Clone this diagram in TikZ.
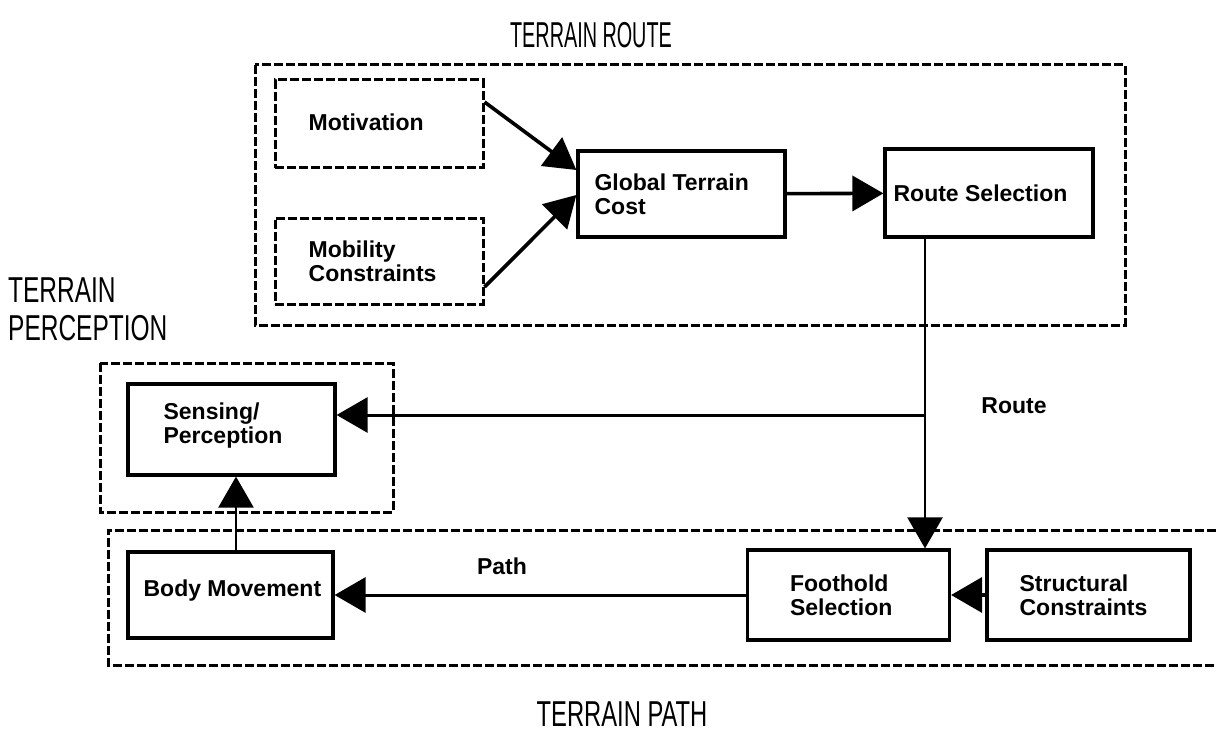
\documentclass[tikz,border=0pt]{standalone}
\usepackage{fontspec}
\setmainfont{Liberation Sans}
\newfontfamily\titlefont[FakeStretch=0.55]{Liberation Sans}
\newfontfamily\titlefontb[FakeStretch=0.66]{Liberation Sans}
\newfontfamily\titlefontc[FakeStretch=0.68]{Liberation Sans}
\usetikzlibrary{arrows.meta}
\begin{document}
\begin{tikzpicture}[x=1pt,y=-1pt,
  box/.style={draw, line width=3.2pt, minimum width=#1, minimum height=88pt, inner sep=0pt},
  dbox/.style={draw, line width=3pt, dash pattern=on 9pt off 3pt, minimum width=#1, minimum height=88pt, inner sep=0pt},
  frame/.style={line width=3pt, dash pattern=on 9pt off 3pt},
  lbl/.style={font=\bfseries\fontsize{23}{24}\selectfont, align=left, inner sep=0pt},
  title/.style={font=\titlefont\fontsize{36}{37}\selectfont, align=left, inner sep=0pt},
  arr/.style={-{Triangle[length=31pt,width=35pt]}, line width=3.6pt},
  thin/.style={line width=2pt}
]
\useasboundingbox (0,0) rectangle (1216,733);

% group frames
\draw[frame] (255,65) rectangle (1125,325);
\draw[frame] (100,363) rectangle (393,512);
\draw[frame] (1216,530) -- (108,530) -- (108,665) -- (1216,665);

% titles
\node[title] (t-route) at (591,35) {TERRAIN ROUTE};
\node[title, font=\titlefontc\fontsize{36}{37}\selectfont, anchor=north west] (t-perc) at (8,278) {TERRAIN\\[1pt]PERCEPTION};
\node[title, font=\titlefontb\fontsize{36}{37}\selectfont] (t-path) at (622,714) {TERRAIN PATH};

% boxes
\node[dbox=208pt] (mot) at (379,124) {};
\node[dbox=208pt, minimum height=86pt] (mob) at (379,261) {};
\node[box=207pt, minimum height=86pt] (gtc) at (681.5,194) {};
\node[box=208pt] (rs) at (989,193) {};
\node[box=207pt, minimum height=91pt] (sp) at (231.5,429.5) {};
\node[box=205pt, minimum height=86pt] (bm) at (230.5,595) {};
\node[box=202pt, minimum height=90pt] (fs) at (848.5,595) {};
\node[box=203pt, minimum height=90pt] (sc) at (1088.5,595) {};

% box texts
\node[lbl, anchor=west] (mot-t) at ([xshift=35pt,yshift=2pt]mot.west) {Motivation};
\node[lbl, anchor=west] (mob-t) at ([xshift=35pt]mob.west) {Mobility\\Constraints};
\node[lbl, anchor=west] (gtc-t) at ([xshift=18pt]gtc.west) {Global Terrain\\Cost};
\node[lbl, anchor=west] (rs-t) at ([xshift=10pt]rs.west) {Route Selection};
\node[lbl, anchor=west] (sp-t) at ([xshift=37pt,yshift=4pt]sp.west) {Sensing/\\Perception};
\node[lbl, anchor=west] (bm-t) at ([xshift=17pt,yshift=4pt]bm.west) {Body Movement};
\node[lbl, anchor=west] (fs-t) at ([xshift=44pt]fs.west) {Foothold\\Selection};
\node[lbl, anchor=west] (sc-t) at ([xshift=34pt]sc.west) {Structural\\Constraints};

% connector labels
\node[lbl] (route-l) at (1014,406) {Route};
\node[lbl] (path-l) at (502,566) {Path};

% connectors
\draw[arr] ([yshift=22pt]mot.east) -- ([yshift=24pt]gtc.west);
\draw[arr] ([yshift=-26pt]mob.east) -- ([yshift=-1pt]gtc.west);
\draw[arr] (gtc) -- (rs);
\coordinate (rj) at (925,415);
\draw[thin] (rs.south -| rj) -- (rj);
\draw[arr, line width=2.4pt] (rj) -- (fs.north -| rj);
\draw[arr, line width=3pt] (rj) -- (sp.east |- rj);
\draw[arr, line width=3pt] (fs.west) -- (bm.east);
\draw[arr] (sc.west) -- (fs.east);
\draw[arr, line width=2.4pt] (bm.north -| 236,0) -- (sp.south -| 236,0);
\end{tikzpicture}
\end{document}
